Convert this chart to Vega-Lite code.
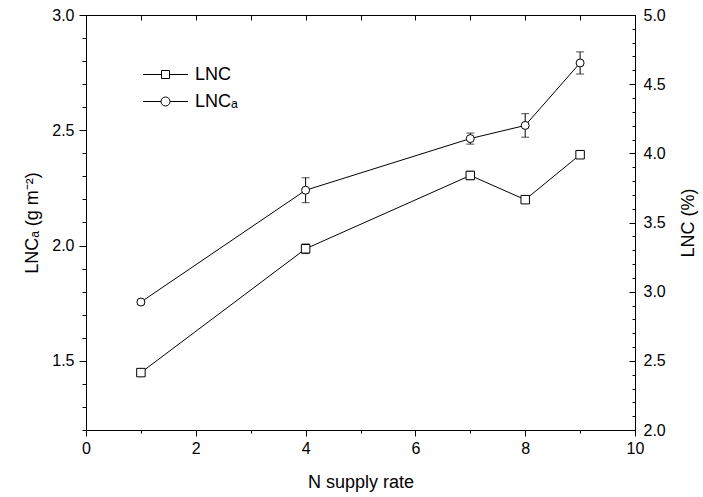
{
  "$schema": "https://vega.github.io/schema/vega-lite/v6.json",
  "width": 549,
  "height": 415,
  "autosize": {"type": "none"},
  "padding": {"left": 86, "top": 15, "right": 68, "bottom": 67},
  "background": "white",
  "config": {
    "font": "Liberation Sans",
    "view": {"stroke": "black", "strokeWidth": 1},
    "axis": {
      "grid": false,
      "domainColor": "black",
      "domainWidth": 1,
      "tickColor": "black",
      "tickWidth": 1,
      "labelColor": "black",
      "titleColor": "black",
      "labelFont": "Liberation Sans",
      "titleFont": "Liberation Sans",
      "labelFontSize": 16,
      "titleFontSize": 18,
      "titleFontWeight": "normal",
      "labelFlush": false,
      "labelOverlap": false,
      "labelBound": false
    }
  },
  "data": {
    "values": [
      {"N": 1, "LNCa": 1.755, "LNCa_err": 0.01, "LNC": 2.415, "LNC_err": 0.015},
      {"N": 4, "LNCa": 2.24, "LNCa_err": 0.054, "LNC": 3.31, "LNC_err": 0.035},
      {"N": 7, "LNCa": 2.464, "LNCa_err": 0.024, "LNC": 3.84, "LNC_err": 0.03},
      {"N": 8, "LNCa": 2.521, "LNCa_err": 0.051, "LNC": 3.665, "LNC_err": 0.02},
      {"N": 9, "LNCa": 2.792, "LNCa_err": 0.048, "LNC": 3.99, "LNC_err": 0.02}
    ]
  },
  "resolve": {"scale": {"y": "independent"}, "axis": {"x": "independent", "y": "independent"}},
  "layer": [
    {
      "resolve": {"axis": {"x": "independent", "y": "independent"}},
      "layer": [
        {
          "mark": {"type": "errorbar", "color": "black", "ticks": {"size": 8, "color": "black"}},
          "encoding": {
            "x": {"field": "N", "type": "quantitative", "scale": {"domain": [0, 10], "nice": false}, "axis": null},
            "y": {"field": "LNCa", "type": "quantitative", "scale": {"domain": [1.2, 3.0], "zero": false, "nice": false}, "axis": null},
            "yError": {"field": "LNCa_err"}
          }
        },
        {
          "mark": {"type": "line", "color": "black", "strokeWidth": 1},
          "encoding": {
            "x": {
              "field": "N", "type": "quantitative",
              "scale": {"domain": [0, 10], "nice": false},
              "axis": {"orient": "bottom", "title": "N supply rate", "values": [0, 2, 4, 6, 8, 10], "format": "d", "tickSize": 6, "labelPadding": 4, "titlePadding": 17}
            },
            "y": {
              "field": "LNCa", "type": "quantitative",
              "scale": {"domain": [1.2, 3.0], "zero": false, "nice": false},
              "axis": {"orient": "left", "title": "LNCₐ (g m⁻²)", "values": [1.5, 2.0, 2.5, 3.0], "format": ".1f", "tickSize": 7, "labelPadding": 5, "titlePadding": 10}
            }
          }
        },
        {
          "mark": {"type": "line", "color": "black", "strokeWidth": 1, "strokeOpacity": 0},
          "encoding": {
            "x": {
              "field": "N", "type": "quantitative",
              "scale": {"domain": [0, 10], "nice": false},
              "axis": {"orient": "bottom", "offset": 0, "values": [1, 3, 5, 7, 9], "tickSize": 3, "labels": false, "domain": false, "title": null}
            },
            "y": {
              "field": "LNCa", "type": "quantitative",
              "scale": {"domain": [1.2, 3.0], "zero": false, "nice": false},
              "axis": {"orient": "left", "offset": 0, "values": [1.2, 1.3, 1.4, 1.6, 1.7, 1.8, 1.9, 2.1, 2.2, 2.3, 2.4, 2.6, 2.7, 2.8, 2.9], "tickSize": 4, "labels": false, "domain": false, "title": null}
            }
          }
        },
        {
          "mark": {"type": "point", "shape": "circle", "size": 64, "filled": false, "color": "black", "fill": "white", "stroke": "black", "strokeWidth": 1, "opacity": 1},
          "encoding": {
            "x": {
              "field": "N", "type": "quantitative",
              "scale": {"domain": [0, 10], "nice": false},
              "axis": {"orient": "bottom", "offset": -415, "values": [0, 1, 2, 3, 4, 5, 6, 7, 8, 9, 10], "tickSize": 5, "labels": false, "domain": false, "title": null}
            },
            "y": {"field": "LNCa", "type": "quantitative", "scale": {"domain": [1.2, 3.0], "zero": false, "nice": false}, "axis": null}
          }
        },
        {
          "mark": {"type": "point", "size": 0, "filled": false, "color": "black", "fill": "white", "stroke": "black", "strokeWidth": 1, "opacity": 1},
          "encoding": {
            "x": {"field": "N", "type": "quantitative", "scale": {"domain": [0, 10], "nice": false}, "axis": null},
            "y": {"field": "LNCa", "type": "quantitative", "scale": {"domain": [1.2, 3.0], "zero": false, "nice": false}, "axis": null},
            "shape": {
              "datum": "LNCₐ",
              "scale": {
                "domain": ["LNC", "LNCₐ"],
                "range": [
                  "M-2.5,0H-0.444M0.444,0H2.5M-0.444,-0.444H0.444V0.444H-0.444Z",
                  "M-2.5,0H-0.5M0.5,0H2.5M0.5,0A0.5,0.5 0 1 1 -0.5,0A0.5,0.5 0 1 1 0.5,0Z"
                ]
              },
              "legend": {
                "title": null,
                "orient": "none",
                "legendX": 70,
                "legendY": 50,
                "padding": 0,
                "symbolSize": 324,
                "symbolStrokeWidth": 1,
                "symbolOpacity": 1,
                "labelFontSize": 18,
                "labelFont": "Liberation Sans",
                "labelColor": "black",
                "labelOffset": 20,
                "rowPadding": 8
              }
            }
          }
        }
      ]
    },
    {
      "resolve": {"axis": {"x": "independent", "y": "independent"}},
      "layer": [
        {
          "mark": {"type": "errorbar", "color": "black", "ticks": {"size": 8, "color": "black"}},
          "encoding": {
            "x": {"field": "N", "type": "quantitative", "scale": {"domain": [0, 10], "nice": false}, "axis": null},
            "y": {"field": "LNC", "type": "quantitative", "scale": {"domain": [2.0, 5.0], "zero": false, "nice": false}, "axis": null},
            "yError": {"field": "LNC_err"}
          }
        },
        {
          "mark": {"type": "line", "color": "black", "strokeWidth": 1},
          "encoding": {
            "x": {"field": "N", "type": "quantitative", "scale": {"domain": [0, 10], "nice": false}, "axis": null},
            "y": {
              "field": "LNC", "type": "quantitative",
              "scale": {"domain": [2.0, 5.0], "zero": false, "nice": false},
              "axis": {"orient": "right", "title": "LNC (%)", "titleAngle": 270, "titleBaseline": "top", "values": [2.0, 2.5, 3.0, 3.5, 4.0, 4.5, 5.0], "format": ".1f", "ticks": false, "domain": false, "labelPadding": 8, "titlePadding": 14}
            }
          }
        },
        {
          "mark": {"type": "line", "color": "black", "strokeWidth": 1, "strokeOpacity": 0},
          "encoding": {
            "x": {"field": "N", "type": "quantitative", "scale": {"domain": [0, 10], "nice": false}, "axis": null},
            "y": {
              "field": "LNC", "type": "quantitative",
              "scale": {"domain": [2.0, 5.0], "zero": false, "nice": false},
              "axis": {"orient": "left", "offset": -549, "values": [2.0, 2.5, 3.0, 3.5, 4.0, 4.5, 5.0], "tickSize": 6, "labels": false, "domain": false, "title": null}
            }
          }
        },
        {
          "mark": {"type": "point", "shape": "square", "size": 72, "filled": false, "color": "black", "fill": "white", "stroke": "black", "strokeWidth": 1, "opacity": 1},
          "encoding": {
            "x": {"field": "N", "type": "quantitative", "scale": {"domain": [0, 10], "nice": false}, "axis": null},
            "y": {
              "field": "LNC", "type": "quantitative",
              "scale": {"domain": [2.0, 5.0], "zero": false, "nice": false},
              "axis": {"orient": "left", "offset": -549, "values": [2.1, 2.2, 2.3, 2.4, 2.6, 2.7, 2.8, 2.9, 3.1, 3.2, 3.3, 3.4, 3.6, 3.7, 3.8, 3.9, 4.1, 4.2, 4.3, 4.4, 4.6, 4.7, 4.8, 4.9], "tickSize": 3, "labels": false, "domain": false, "title": null}
            }
          }
        },
        {
          "mark": {"type": "point", "size": 0, "filled": false, "color": "black", "fill": "white", "stroke": "black", "strokeWidth": 1, "opacity": 1},
          "encoding": {
            "x": {"field": "N", "type": "quantitative", "scale": {"domain": [0, 10], "nice": false}, "axis": null},
            "y": {"field": "LNC", "type": "quantitative", "scale": {"domain": [2.0, 5.0], "zero": false, "nice": false}, "axis": null},
            "shape": {"datum": "LNC"}
          }
        }
      ]
    }
  ]
}
